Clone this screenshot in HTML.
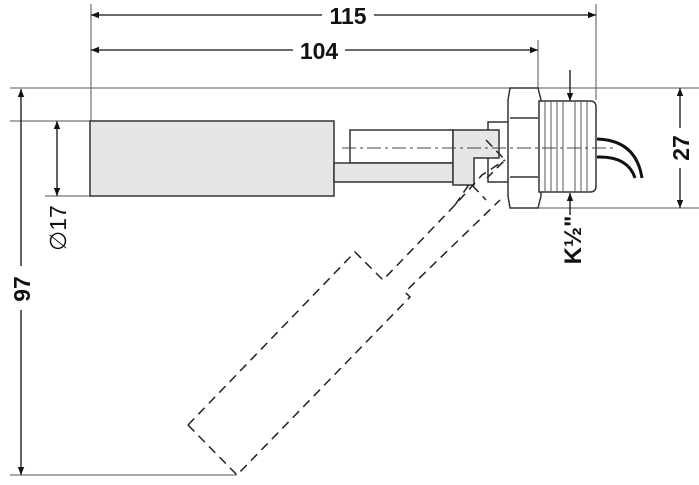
<!DOCTYPE html>
<html><head><style>html,body{margin:0;padding:0;background:#fff}svg{display:block}</style></head><body>
<svg width="699" height="485" viewBox="0 0 699 485" xmlns="http://www.w3.org/2000/svg" font-family="Liberation Sans, sans-serif">
<defs>
<marker id="a" viewBox="0 0 10 10" refX="10" refY="5" markerWidth="10" markerHeight="8" orient="auto-start-reverse" markerUnits="userSpaceOnUse"><path d="M0,1 L10,5 L0,9 z" fill="#111"/></marker>
</defs>
<g stroke="#555" stroke-width="1" fill="none">
<line x1="10" y1="88" x2="699" y2="88"/>
<line x1="510" y1="208" x2="699" y2="208"/>
<line x1="10" y1="475" x2="237" y2="475"/>
<line x1="10" y1="121" x2="90" y2="121"/>
<line x1="45" y1="196" x2="90" y2="196"/>
<line x1="91" y1="4" x2="91" y2="121"/>
<line x1="538" y1="40" x2="538" y2="88"/>
<line x1="596" y1="4" x2="596" y2="100"/>
<line x1="570" y1="70" x2="570" y2="88"/>
</g>
<g stroke="#111" stroke-width="1.3" fill="none">
<line x1="91" y1="15" x2="596" y2="15" marker-start="url(#a)" marker-end="url(#a)"/>
<line x1="91" y1="50" x2="538" y2="50" marker-start="url(#a)" marker-end="url(#a)"/>
<line x1="21" y1="89" x2="21" y2="475" marker-start="url(#a)" marker-end="url(#a)"/>
<line x1="57" y1="121" x2="57" y2="196" marker-start="url(#a)" marker-end="url(#a)"/>
<line x1="680" y1="88" x2="680" y2="208" marker-start="url(#a)" marker-end="url(#a)"/>
<line x1="570" y1="70" x2="570" y2="101" marker-end="url(#a)"/>
<line x1="570" y1="215" x2="570" y2="193" marker-end="url(#a)"/>
</g>
<g fill="#fff" font-size="23" font-weight="bold" text-anchor="middle">
<rect x="322" y="2" width="52" height="26"/><text x="348" y="24" fill="#111" stroke="none">115</text>
<rect x="293" y="37" width="52" height="26"/><text x="319" y="59" fill="#111" stroke="none">104</text>
<rect x="10" y="266" width="22" height="44"/><text transform="translate(30,289) rotate(-90)" fill="#111">97</text>
<rect x="669" y="128" width="22" height="40"/><text transform="translate(689,148) rotate(-90)" fill="#111">27</text>
<text transform="translate(66,228) rotate(-90)" fill="#111" font-weight="normal" font-size="23">∅17</text>
<text transform="translate(581,240) rotate(-90)" fill="#111" font-size="24">K½"</text>
</g>
<g stroke="#333" stroke-width="1.5" fill="#e6e6e6">
<rect x="90" y="121" width="244" height="75"/>
<rect x="350" y="130" width="103" height="33" fill="#fff"/>
<rect x="334" y="163" width="119" height="19"/>
<rect x="488" y="122" width="22" height="60" fill="#fff"/>
<path d="M453,130 H499 V158 H474 V185 H453 Z"/>
<path d="M510,88 H538 L541,100 V196 L538,208 H510 L508,196 V100 Z" fill="#fff"/>
<line x1="510" y1="118" x2="538" y2="118"/><line x1="510" y1="177" x2="538" y2="177"/>
<path d="M539,101 H590 Q596,101 596,107 V186 Q596,192 590,192 H539 Z" fill="#fff"/>
</g>
<g stroke="#555" stroke-width="1">
<line x1="545" y1="101" x2="545" y2="192"/><line x1="551" y1="101" x2="551" y2="192"/><line x1="557" y1="101" x2="557" y2="192"/><line x1="563" y1="101" x2="563" y2="192"/><line x1="575" y1="101" x2="575" y2="192"/><line x1="581" y1="101" x2="581" y2="192"/><line x1="587" y1="101" x2="587" y2="192"/>
</g>
<g stroke="#111" stroke-width="3" fill="none">
<path d="M597,139 Q636,140 642,178"/>
<path d="M597,157 Q628,156 635,178"/>
</g>
<line x1="342" y1="148" x2="615" y2="148" stroke="#444" stroke-width="1" stroke-dasharray="14,4,3,4"/>
<g stroke="#222" stroke-width="1.5" fill="none" stroke-dasharray="9,6">
<path d="M188,425 L355,252 L383,280 L455,205 L482,175 L505,160"/>
<path d="M188,425 L237,475 L410,297 L405,292 L500,200"/>
<path d="M486,140 L505,160 L487,178"/>
<path d="M455,205 L470,183 L486,200"/>
</g>
</svg>
</body></html>
